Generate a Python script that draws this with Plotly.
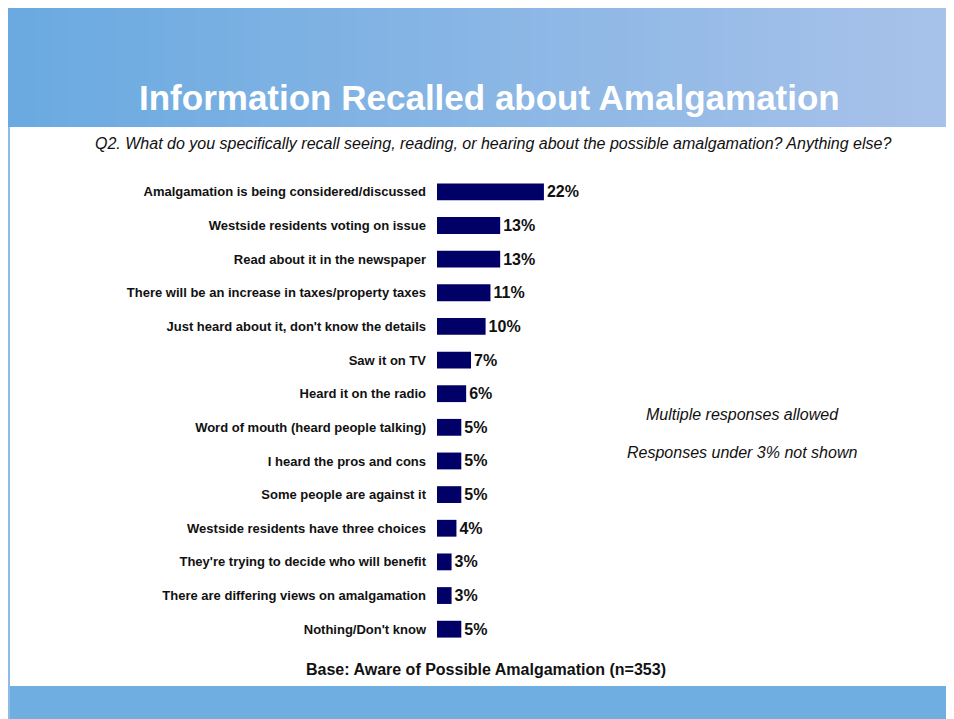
import plotly.graph_objects as go

categories = [
    "Amalgamation is being considered/discussed",
    "Westside residents voting on issue",
    "Read about it in the newspaper",
    "There will be an increase in taxes/property taxes",
    "Just heard about it, don't know the details",
    "Saw it on TV",
    "Heard it on the radio",
    "Word of mouth (heard people talking)",
    "I heard the pros and cons",
    "Some people are against it",
    "Westside residents have three choices",
    "They're trying to decide who will benefit",
    "There are differing views on amalgamation",
    "Nothing/Don't know",
]
percents = [22, 13, 13, 11, 10, 7, 6, 5, 5, 5, 4, 3, 3, 5]

title = "Information Recalled about Amalgamation"
question = ("Q2. What do you specifically recall seeing, reading, or hearing about "
            "the possible amalgamation? Anything else?")
notes = ["Multiple responses allowed", "Responses under 3% not shown"]
base_note = "Base: Aware of Possible Amalgamation (n=353)"

# the page puts the figure 8px in from the top-left corner
OFF = 8
W, H = 954 - OFF, 719 - OFF
ML, MR, MT, MB = 437 - OFF, 10, 175 - OFF, 73
PW, PH = W - ML - MR, H - MT - MB
FONT = "Liberation Sans, Arial, sans-serif"


def px(x):
    return (x - OFF - ML) / PW


def py(y):
    return (H - MB - (y - OFF)) / PH


fig = go.Figure(go.Bar(
    x=percents,
    y=categories,
    orientation="h",
    width=0.5,
    marker=dict(color="#000066", line=dict(width=0)),
    texttemplate="%{x}%",
    textposition="outside",
    constraintext="none",
    textfont=dict(family=FONT, size=16, color="#111111", weight="bold"),
    cliponaxis=False,
))

# header band with a left-to-right gradient, drawn as thin strips
shapes = []
c0, c1 = (106, 170, 224), (168, 194, 234)
n = 60
x0, x1 = 5, 960
for i in range(n):
    t = i / (n - 1)
    col = tuple(round(a + (b - a) * t) for a, b in zip(c0, c1))
    sx0 = x0 + (x1 - x0) * i / n
    sx1 = x0 + (x1 - x0) * (i + 1) / n + 1
    shapes.append(dict(
        type="rect", xref="paper", yref="paper", layer="below",
        x0=px(sx0), x1=px(sx1), y0=py(127), y1=py(7),
        fillcolor="rgb(%d,%d,%d)" % col, line=dict(width=0),
    ))
# left strip and bottom band
shapes.append(dict(type="rect", xref="paper", yref="paper", layer="below",
                   x0=px(5), x1=px(10), y0=py(725), y1=py(127),
                   fillcolor="#8fbbe6", line=dict(width=0)))
shapes.append(dict(type="rect", xref="paper", yref="paper", layer="below",
                   x0=px(10), x1=px(960), y0=py(725), y1=py(686),
                   fillcolor="#6faee0", line=dict(width=0)))


def note(text, x, y, size):
    return dict(text=text, x=px(x), y=py(y), xref="paper", yref="paper",
                xanchor="center", yanchor="middle", showarrow=False,
                font=dict(family=FONT, size=size, color="#111111"))


annotations = [
    note("<b>" + title + "</b>", 489, 97, 35),
    note("<i>" + question + "</i>", 493, 143, 16),
    note("<i>" + notes[0] + "</i>", 742, 414, 16),
    note("<i>" + notes[1] + "</i>", 742, 452, 16),
    note("<b>" + base_note + "</b>", 486, 669, 16),
]
annotations[0]["font"]["color"] = "white"

fig.update_layout(
    width=W, height=H,
    margin=dict(l=ML, r=MR, t=MT, b=MB, pad=0),
    paper_bgcolor="white", plot_bgcolor="rgba(0,0,0,0)",
    showlegend=False,
    shapes=shapes,
    annotations=annotations,
)
fig.update_xaxes(range=[0, PW / 4.86], visible=False, fixedrange=True)
fig.update_yaxes(
    autorange="reversed", showgrid=False, zeroline=False, showline=False,
    ticks="", ticklabelstandoff=10,
    tickfont=dict(family=FONT, size=13, color="#111111", weight="bold"),
)

fig.write_html("out.html")
